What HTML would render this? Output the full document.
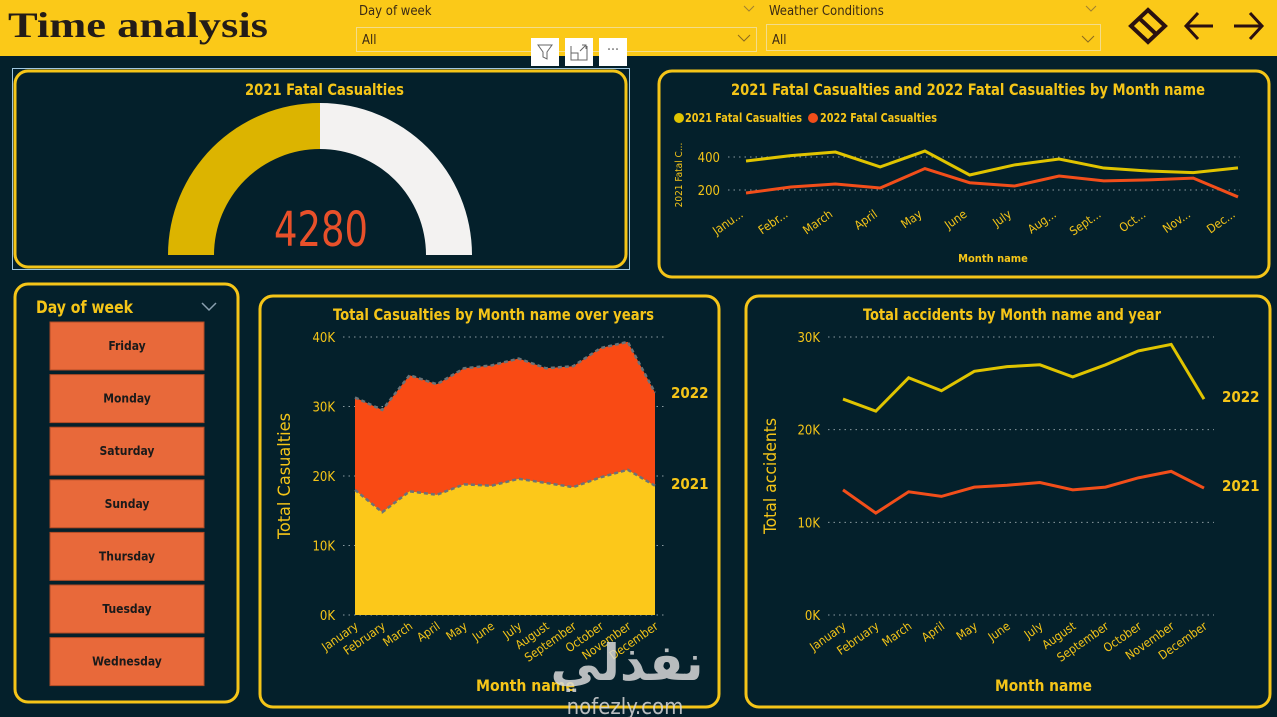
<!DOCTYPE html>
<html><head><meta charset="utf-8"><style>
html,body{margin:0;padding:0;background:#04202b;}
svg{display:block;font-family:"Liberation Sans Narrow","DejaVu Sans Condensed","Liberation Sans",sans-serif;}
</style></head><body>
<svg id="s" width="1277" height="717" viewBox="0 0 1277 717" xmlns="http://www.w3.org/2000/svg">
<rect x="0" y="0" width="1277" height="717" fill="#04202b"/>
<rect x="0" y="0" width="1277" height="56" fill="#fbc918"/>
<text x="8" y="37" font-family="Liberation Serif,serif" font-weight="bold" font-size="36" fill="#231c18" textLength="260" lengthAdjust="spacingAndGlyphs">Time analysis</text>
<g>
<text x="359" y="15" font-size="13" fill="#3b2a14">Day of week</text>
<path d="M744 6 l5 5 l5 -5" fill="none" stroke="#a08030"/>
<rect x="356.5" y="27.5" width="400" height="24" fill="none" stroke="#f3dc8a"/>
<text x="362" y="44" font-size="13" fill="#3b2a14">All</text>
<path d="M738 35 l6 6 l6 -6" fill="none" stroke="#8a6a20"/>
</g>
<g>
<text x="769" y="15" font-size="13" fill="#3b2a14">Weather Conditions</text>
<path d="M1086 6 l5 5 l5 -5" fill="none" stroke="#a08030"/>
<rect x="766.5" y="24.5" width="334" height="26" fill="none" stroke="#f3dc8a"/>
<text x="772" y="44" font-size="13" fill="#3b2a14">All</text>
<path d="M1082 36 l6 6 l6 -6" fill="none" stroke="#8a6a20"/>
</g>
<g stroke="#2a1010" stroke-width="4" fill="none">
<path d="M1148 10 L1165 26 L1148 42 L1131 26 Z M1139 18 L1156 34"/>
<path d="M1213 26 H1186 M1198 13 L1186 26 L1198 39" stroke-width="3"/>
<path d="M1234 26 H1262 M1250 13 L1262 26 L1250 39" stroke-width="3"/>
</g>

<rect x="12.5" y="68.5" width="617" height="201" fill="none" stroke="#9fc6e0" stroke-width="1"/>
<rect x="15" y="71" width="611" height="196" rx="13" fill="#04202b" stroke="#f5c518" stroke-width="3"/>
<rect x="659" y="71" width="610" height="206" rx="13" fill="none" stroke="#f5c518" stroke-width="3"/>
<rect x="15" y="284" width="223" height="418" rx="13" fill="none" stroke="#f5c518" stroke-width="3"/>
<rect x="260" y="296" width="459" height="411" rx="13" fill="none" stroke="#f5c518" stroke-width="3"/>
<rect x="746" y="296" width="524" height="411" rx="13" fill="none" stroke="#f5c518" stroke-width="3"/>

<g>
<rect x="531" y="38" width="28" height="28" fill="#fff"/>
<path d="M538 45 h14 l-5 7 v7 l-4 -2 v-5 z" fill="none" stroke="#666"/>
<rect x="565" y="38" width="28" height="28" fill="#fff"/>
<path d="M571 46 v14 h16 v-14 M571 53 h7 v7 M580 51 l6 -6 M582 45 h4 v4" fill="none" stroke="#666"/>
<rect x="599" y="38" width="28" height="28" fill="#fff"/>
<text x="613" y="54" text-anchor="middle" font-size="14" fill="#666">···</text>
</g>

<text x="245" y="95" font-weight="bold" font-size="16" fill="#f5c518" textLength="159" lengthAdjust="spacingAndGlyphs">2021 Fatal Casualties</text>
<g id="gauge"></g>

<text x="36" y="313" font-size="17" font-weight="bold" fill="#f5c518" textLength="97" lengthAdjust="spacingAndGlyphs">Day of week</text>
<path d="M202 303 l7 7 l7 -7" fill="none" stroke="#8aa0b0" stroke-width="1.5"/>
<g id="slicer"></g>

<g id="fatal"></g>
<g id="area"></g>
<g id="acc"></g>

<text x="627" y="680" text-anchor="middle" font-family="DejaVu Sans,sans-serif" font-weight="bold" font-size="50" fill="#d8d8d8" opacity="0.85">نفذلي</text>
<text x="625" y="714" text-anchor="middle" font-size="22" fill="#d8d8d8" opacity="0.85">nofezly.com</text>
</svg>
<script>
const NS="http://www.w3.org/2000/svg";
const months=["January","February","March","April","May","June","July","August","September","October","November","December"];
const monthsShort=["Janu...","Febr...","March","April","May","June","July","Aug...","Sept...","Oct...","Nov...","Dec..."];
const fatal2021=[376,408,430,340,436,291,352,388,333,315,305,334];
const fatal2022=[182,218,236,212,330,244,224,285,255,261,272,158];
const fatalTicks=[200,400];
const cas2021=[18.0,14.8,17.8,17.3,18.8,18.6,19.6,19.0,18.4,19.8,20.9,18.6];
const cas2022=[13.3,14.7,16.7,15.9,16.7,17.3,17.3,16.5,17.4,18.6,18.4,13.4];
const casTicks=[0,10,20,30,40];
const acc2021=[13.5,11.0,13.3,12.8,13.8,14.0,14.3,13.5,13.8,14.8,15.5,13.7];
const acc2022=[23.3,22.0,25.6,24.2,26.3,26.8,27.0,25.7,27.0,28.5,29.2,23.3];
const accTicks=[0,10,20,30];
const gaugeValue=4280;
const gaugeMax=8560;
const days=["Friday","Monday","Saturday","Sunday","Thursday","Tuesday","Wednesday"];
const Y="#f5c518", O="#f24e1a", G="#e0c400";

function el(tag,attrs,parent,txt){const e=document.createElementNS(NS,tag);for(const k in attrs)e.setAttribute(k,attrs[k]);if(txt!==undefined)e.textContent=txt;parent.appendChild(e);return e;}
function lin(d0,d1,r0,r1){return v=>r0+(v-d0)/(d1-d0)*(r1-r0);}
const FIT="spacingAndGlyphs";

(function(){
 const g=document.getElementById('gauge');
 const cx=320,cy=255,R=152,r=106;
 const frac=gaugeValue/gaugeMax;
 const a=Math.PI*(1-frac);
 const px=(rad,ang)=>[cx+rad*Math.cos(ang),cy-rad*Math.sin(ang)];
 const [ox,oy]=px(R,a),[ix,iy]=px(r,a);
 let p=el('path',{d:`M${cx-R} ${cy} A${R} ${R} 0 0 1 ${ox} ${oy} L${ix} ${iy} A${r} ${r} 0 0 0 ${cx-r} ${cy} Z`,fill:"#dcb400"},g);
 
 
 p=el('path',{d:`M${ox} ${oy} A${R} ${R} 0 0 1 ${cx+R} ${cy} L${cx+r} ${cy} A${r} ${r} 0 0 0 ${ix} ${iy} Z`,fill:"#f3f2f1"},g);
 
 
 const t=el('text',{x:274,y:246,"font-size":"48",fill:"#e8502a",textLength:"94",lengthAdjust:FIT,"font-family":"DejaVu Sans Condensed,Liberation Sans Narrow,sans-serif","font-weight":"200"},g,String(gaugeValue));
 
 
})();

(function(){
 const g=document.getElementById('slicer');
 days.forEach((d,i)=>{
  const y=322+i*52.6;
  const r=el('rect',{x:50,y:y,width:154,height:48,fill:"#e8693a",stroke:"#b04a25"},g);
  
  
  const t=el('text',{x:127,y:y+28,"text-anchor":"middle","font-size":"12","font-weight":"bold",fill:"#1a1a1a"},g,d);
  
  
 });
})();

(function(){
 const g=document.getElementById('fatal');
 const x=i=>746+i*(1238-746)/11, y=lin(200,400,190,157);
 let t=el('text',{x:731,y:95,"font-size":"16","font-weight":"bold",fill:Y,textLength:"474",lengthAdjust:FIT},g,"2021 Fatal Casualties and 2022 Fatal Casualties by Month name");
 
 let c=el('circle',{cx:679,cy:118,r:5,fill:G},g);
 
 t=el('text',{x:685,y:122,"font-size":"12","font-weight":"bold",fill:Y,textLength:"117",lengthAdjust:FIT},g,"2021 Fatal Casualties");
 
 c=el('circle',{cx:813,cy:118,r:5,fill:O},g);
 
 t=el('text',{x:820,y:122,"font-size":"12","font-weight":"bold",fill:Y,textLength:"117",lengthAdjust:FIT},g,"2022 Fatal Casualties");
 
 fatalTicks.forEach(v=>{
  const l=el('line',{x1:728,x2:1240,y1:y(v),y2:y(v),stroke:"#8a9aa0","stroke-dasharray":"1.5 4"},g);
  
  const tt=el('text',{x:720,y:y(v)+5,"text-anchor":"end","font-size":"13",fill:Y},g,String(v));
  
 });
 t=el('text',{x:0,y:0,transform:"translate(682,175) rotate(-90)","text-anchor":"middle","font-size":"10",fill:Y},g,"2021 Fatal C...");
 
 [[fatal2021,G,'line-2021-fatal'],[fatal2022,O,'line-2022-fatal']].forEach(([d,col,n])=>{
  const p=el('path',{d:d.map((v,i)=>(i?'L':'M')+x(i)+' '+y(v)).join(' '),fill:"none",stroke:col,"stroke-width":"3"},g);
  
 });
 monthsShort.forEach((m,i)=>{
  const tt=el('text',{x:0,y:0,transform:`translate(${x(i)-2},${216}) rotate(-35)`,"text-anchor":"end","font-size":"12",fill:Y},g,m);
  
 });
 t=el('text',{x:993,y:262,"text-anchor":"middle","font-size":"11","font-weight":"bold",fill:Y},g,"Month name");
 
})();

(function(){
 const g=document.getElementById('area');
 const x=i=>355+i*(655-355)/11, y=lin(0,40,615,337);
 let t=el('text',{x:333,y:320,"font-size":"16","font-weight":"bold",fill:Y,textLength:"321",lengthAdjust:FIT},g,"Total Casualties by Month name over years");
 
 casTicks.forEach(v=>{
  const l=el('line',{x1:343,x2:665,y1:y(v),y2:y(v),stroke:"#8a9aa0","stroke-dasharray":"1.5 4"},g);
  
  const tt=el('text',{x:335,y:y(v)+5,"text-anchor":"end","font-size":"13",fill:Y},g,v+"K");
  
 });
 const top=cas2021.map((v,i)=>v+cas2022[i]);
 const base=cas2021.map((v,i)=>[x(i),y(v)]);
 const tp=top.map((v,i)=>[x(i),y(v)]);
 let p=el('path',{d:'M'+tp.map(q=>q.join(' ')).join(' L')+' L'+base.slice().reverse().map(q=>q.join(' ')).join(' L')+'Z',fill:"#f94a14"},g);
 
 p=el('path',{d:'M'+base.map(q=>q.join(' ')).join(' L')+` L${x(11)} ${y(0)} L${x(0)} ${y(0)} Z`,fill:"#fcc81a"},g);
 
 [[base,'area-2021-outline'],[tp,'area-2022-outline']].forEach(([pts,n])=>{
  const l=el('path',{d:'M'+pts.map(q=>q.join(' ')).join(' L'),fill:"none",stroke:"#6b7378","stroke-width":"2.5","stroke-dasharray":"4 3"},g);
  
 });
 t=el('text',{x:671,y:398,"font-size":"15","font-weight":"bold",fill:Y},g,"2022");
 
 t=el('text',{x:671,y:489,"font-size":"15","font-weight":"bold",fill:Y},g,"2021");
 
 t=el('text',{x:0,y:0,transform:"translate(290,476) rotate(-90)","text-anchor":"middle","font-size":"17",fill:Y,textLength:"126",lengthAdjust:FIT},g,"Total Casualties");
 
 months.forEach((m,i)=>{
  const tt=el('text',{x:0,y:0,transform:`translate(${x(i)+4},${628}) rotate(-35)`,"text-anchor":"end","font-size":"12",fill:Y},g,m);
  
 });
 t=el('text',{x:476,y:691,"font-size":"16","font-weight":"bold",fill:Y,textLength:"99",lengthAdjust:FIT},g,"Month name");
 
})();

(function(){
 const g=document.getElementById('acc');
 const x=i=>843+i*(1204-843)/11, y=lin(0,30,615,337);
 let t=el('text',{x:863,y:320,"font-size":"16","font-weight":"bold",fill:Y,textLength:"298",lengthAdjust:FIT},g,"Total accidents by Month name and year");
 
 accTicks.forEach(v=>{
  const l=el('line',{x1:828,x2:1214,y1:y(v),y2:y(v),stroke:"#8a9aa0","stroke-dasharray":"1.5 4"},g);
  
  const tt=el('text',{x:820,y:y(v)+5,"text-anchor":"end","font-size":"13",fill:Y},g,v+"K");
  
 });
 [[acc2022,G,'line-2022-accidents'],[acc2021,O,'line-2021-accidents']].forEach(([d,col,n])=>{
  const p=el('path',{d:d.map((v,i)=>(i?'L':'M')+x(i)+' '+y(v)).join(' '),fill:"none",stroke:col,"stroke-width":"3"},g);
  
 });
 t=el('text',{x:1222,y:y(acc2022[11])+3,"font-size":"15","font-weight":"bold",fill:Y},g,"2022");
 
 t=el('text',{x:1222,y:y(acc2021[11])+3,"font-size":"15","font-weight":"bold",fill:Y},g,"2021");
 
 t=el('text',{x:0,y:0,transform:"translate(776,476) rotate(-90)","text-anchor":"middle","font-size":"17",fill:Y,textLength:"116",lengthAdjust:FIT},g,"Total accidents");
 
 months.forEach((m,i)=>{
  const tt=el('text',{x:0,y:0,transform:`translate(${x(i)+4},${628}) rotate(-35)`,"text-anchor":"end","font-size":"12",fill:Y},g,m);
  
 });
 t=el('text',{x:995,y:691,"font-size":"16","font-weight":"bold",fill:Y,textLength:"97",lengthAdjust:FIT},g,"Month name");
 
})();
</script>
</body></html>
